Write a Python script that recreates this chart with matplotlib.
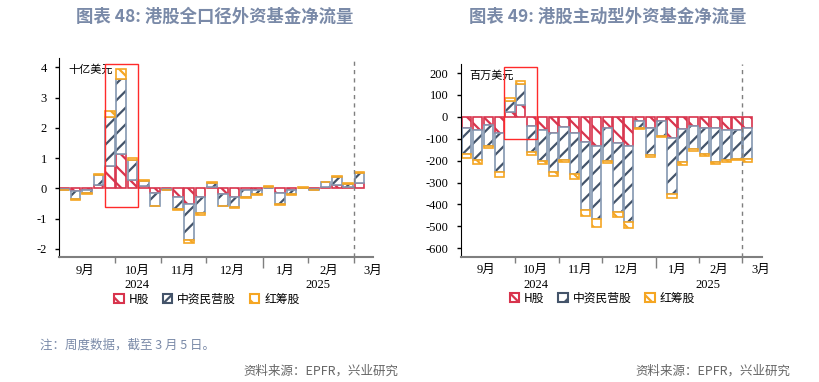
import numpy as np
import matplotlib
matplotlib.use("Agg")
import matplotlib.pyplot as plt
from matplotlib.patches import Patch, Rectangle
from matplotlib.transforms import blended_transform_factory

plt.rcParams['font.family'] = ['Liberation Serif', 'Noto Sans CJK SC', 'DejaVu Sans']
plt.rcParams['hatch.linewidth'] = 1.6

# weekly data, 27 weeks (Sep 2024 - Mar 5 2025)
# 图表48: 十亿美元
h_all = [-0.02, -0.10, -0.07, 0.12, 0.75, 1.12, 0.28, 0.07, -0.17, -0.03, -0.27, -0.52, -0.28, 0.03,
         -0.20, -0.28, -0.05, -0.05, 0.02, -0.17, -0.05, 0.02, -0.03, 0.05, 0.10, 0.03, 0.17]
cn_all = [-0.03, -0.25, -0.10, 0.33, 1.60, 2.50, 0.67, 0.18, -0.40, -0.03, -0.41, -1.20, -0.54, 0.14,
          -0.37, -0.35, -0.24, -0.15, 0.04, -0.36, -0.13, 0.00, -0.01, 0.15, 0.28, 0.11, 0.35]
rc_all = [-0.02, -0.03, -0.02, 0.03, 0.22, 0.33, 0.05, 0.03, -0.03, -0.01, -0.04, -0.10, -0.05, 0.03,
          -0.03, -0.03, -0.03, -0.03, 0.02, -0.03, -0.03, 0.01, -0.02, 0.02, 0.03, 0.02, 0.03]

# 图表49: 百万美元
h_act = [-49, -58, -37, -72, 21, 52, -40, -59, -72, -47, -75, -116, -131, -49,
         -120, -131, -21, -49, -21, -98, -56, -41, -49, -49, -59, -58, -52]
cn_act = [-122, -140, -94, -178, 52, 97, -122, -142, -181, -150, -187, -309, -337, -152,
          -316, -348, -31, -125, -66, -256, -151, -107, -120, -155, -138, -134, -140]
rc_act = [-15, -18, -12, -23, 15, 17, -12, -15, -18, -10, -22, -29, -34, -12,
          -23, -30, -4, -9, -4, -18, -13, -6, -8, -11, -10, -6, -12]

month_labels = ['9月', '10月', '11月', '12月', '1月', '2月', '3月']
month_pos = [1.8, 6.4, 10.5, 14.8, 19.5, 23.3, 27.2]
year_labels = ['2024', '2025']
year_pos = [6.4, 22.3]
month_bounds = [4.5, 8.5, 12.5, 21.5, 25.5]
year_bound = 17.5

series_names = ['H股', '中资民营股', '红筹股']
RED = '#d8344d'
NAVY = '#44546a'
NAVY_EDGE = '#8497b0'
ORANGE = '#f5a623'
TITLE_C = '#7a8aa8'


def draw(ax, series, ylim, yticks, unit, box, xlim):
    x = np.arange(len(series[0]))
    pos = np.zeros(len(x))
    neg = np.zeros(len(x))
    w = 0.85
    for vals, col, hatch in zip(series, [RED, NAVY, ORANGE], ['\\\\', '//', '\\\\']):
        v = np.array(vals, dtype=float)
        bottom = np.where(v >= 0, pos, neg)
        if col == NAVY:
            ax.bar(x, v, w, bottom=bottom, color='white', edgecolor=NAVY, hatch=hatch, linewidth=0)
            ax.bar(x, v, w, bottom=bottom, fill=False, edgecolor=NAVY_EDGE, linewidth=1.2)
        else:
            ax.bar(x, v, w, bottom=bottom, color='white', edgecolor=col, hatch=hatch, linewidth=1.2)
        pos = pos + np.where(v >= 0, v, 0)
        neg = neg + np.where(v < 0, v, 0)

    ax.set_xlim(*xlim)
    ax.set_ylim(*ylim)
    ax.set_yticks(yticks)
    ax.set_yticklabels([str(t) for t in yticks], fontsize=9)
    ax.tick_params(axis='y', length=3, width=1, pad=6)
    ax.set_xticks(month_bounds)
    ax.set_xticklabels([])
    ax.set_xticks([year_bound], minor=True)
    ax.tick_params(axis='x', which='major', length=4, width=1, color='#7f7f7f')
    ax.tick_params(axis='x', which='minor', length=8, width=1, color='#7f7f7f')
    for s in ['top', 'right']:
        ax.spines[s].set_visible(False)
    ax.spines['left'].set_color('black')
    ax.spines['bottom'].set_color('#7f7f7f')
    ax.spines['bottom'].set_linewidth(1.5)

    ax.axvline(25.5, color='#7f7f7f', linestyle=(0, (3, 3)), linewidth=1)
    x0, x1, y0, y1 = box
    ax.add_patch(Rectangle((x0, y0), x1 - x0, y1 - y0, fill=False, edgecolor='#ff2a2a', linewidth=1, zorder=5))

    ax.text(0.03, 0.97, unit, transform=ax.transAxes, fontsize=8, va='top', ha='left',
            family=['Noto Sans CJK SC'])

    tr = blended_transform_factory(ax.transData, ax.transAxes)
    for lab, p in zip(month_labels, month_pos):
        ax.text(p, -0.07, lab, transform=tr, ha='center', va='center', fontsize=9)
    for lab, p in zip(year_labels, year_pos):
        ax.text(p, -0.145, lab, transform=tr, ha='center', va='center', fontsize=9)

    handles = [Patch(facecolor='white', edgecolor=RED, hatch='\\\\', linewidth=1.5),
               Patch(facecolor='white', edgecolor=NAVY, hatch='//', linewidth=1.5),
               Patch(facecolor='white', edgecolor=ORANGE, hatch='\\\\', linewidth=1.5)]
    ax.legend(handles, series_names, loc='center', bbox_to_anchor=(0.47, -0.215), ncol=3,
              frameon=False, handlelength=0.8, handleheight=0.8,
              handletextpad=0.4, columnspacing=1.2, prop={'family': ['Noto Sans CJK SC'], 'size': 8.5})


fig = plt.figure(figsize=(8.2, 3.82), dpi=100)
ax1 = fig.add_axes([0.0723, 0.328, 0.3827, 0.5195])
ax2 = fig.add_axes([0.5618, 0.328, 0.3672, 0.5036])

draw(ax1, [h_all, cn_all, rc_all], (-2.26, 4.3), [-2, -1, 0, 1, 2, 3, 4], '十亿美元',
     (3.56, 6.47, -0.61, 4.11), (-0.44, 27.2))
draw(ax2, [h_act, cn_act, rc_act], (-639, 240), list(range(-600, 201, 100)), '百万美元',
     (3.45, 6.46, -100, 227), (-0.56, 27.3))

fig.text(0.262, 0.955, '图表 48: 港股全口径外资基金净流量', ha='center', va='center', fontsize=12.5,
         fontweight='bold', color=TITLE_C, family=['Noto Sans CJK SC'])
fig.text(0.741, 0.955, '图表 49: 港股主动型外资基金净流量', ha='center', va='center', fontsize=12.5,
         fontweight='bold', color=TITLE_C, family=['Noto Sans CJK SC'])
fig.text(0.049, 0.097, '注：周度数据，截至 3 月 5 日。', ha='left', va='center', fontsize=9,
         color=TITLE_C, family=['Noto Sans CJK SC'])
fig.text(0.486, 0.029, '资料来源：EPFR，兴业研究', ha='right', va='center', fontsize=9,
         color='#666666', family=['Noto Sans CJK SC'])
fig.text(0.964, 0.029, '资料来源：EPFR，兴业研究', ha='right', va='center', fontsize=9,
         color='#666666', family=['Noto Sans CJK SC'])

fig.savefig('out.png', dpi=100, facecolor='white')
